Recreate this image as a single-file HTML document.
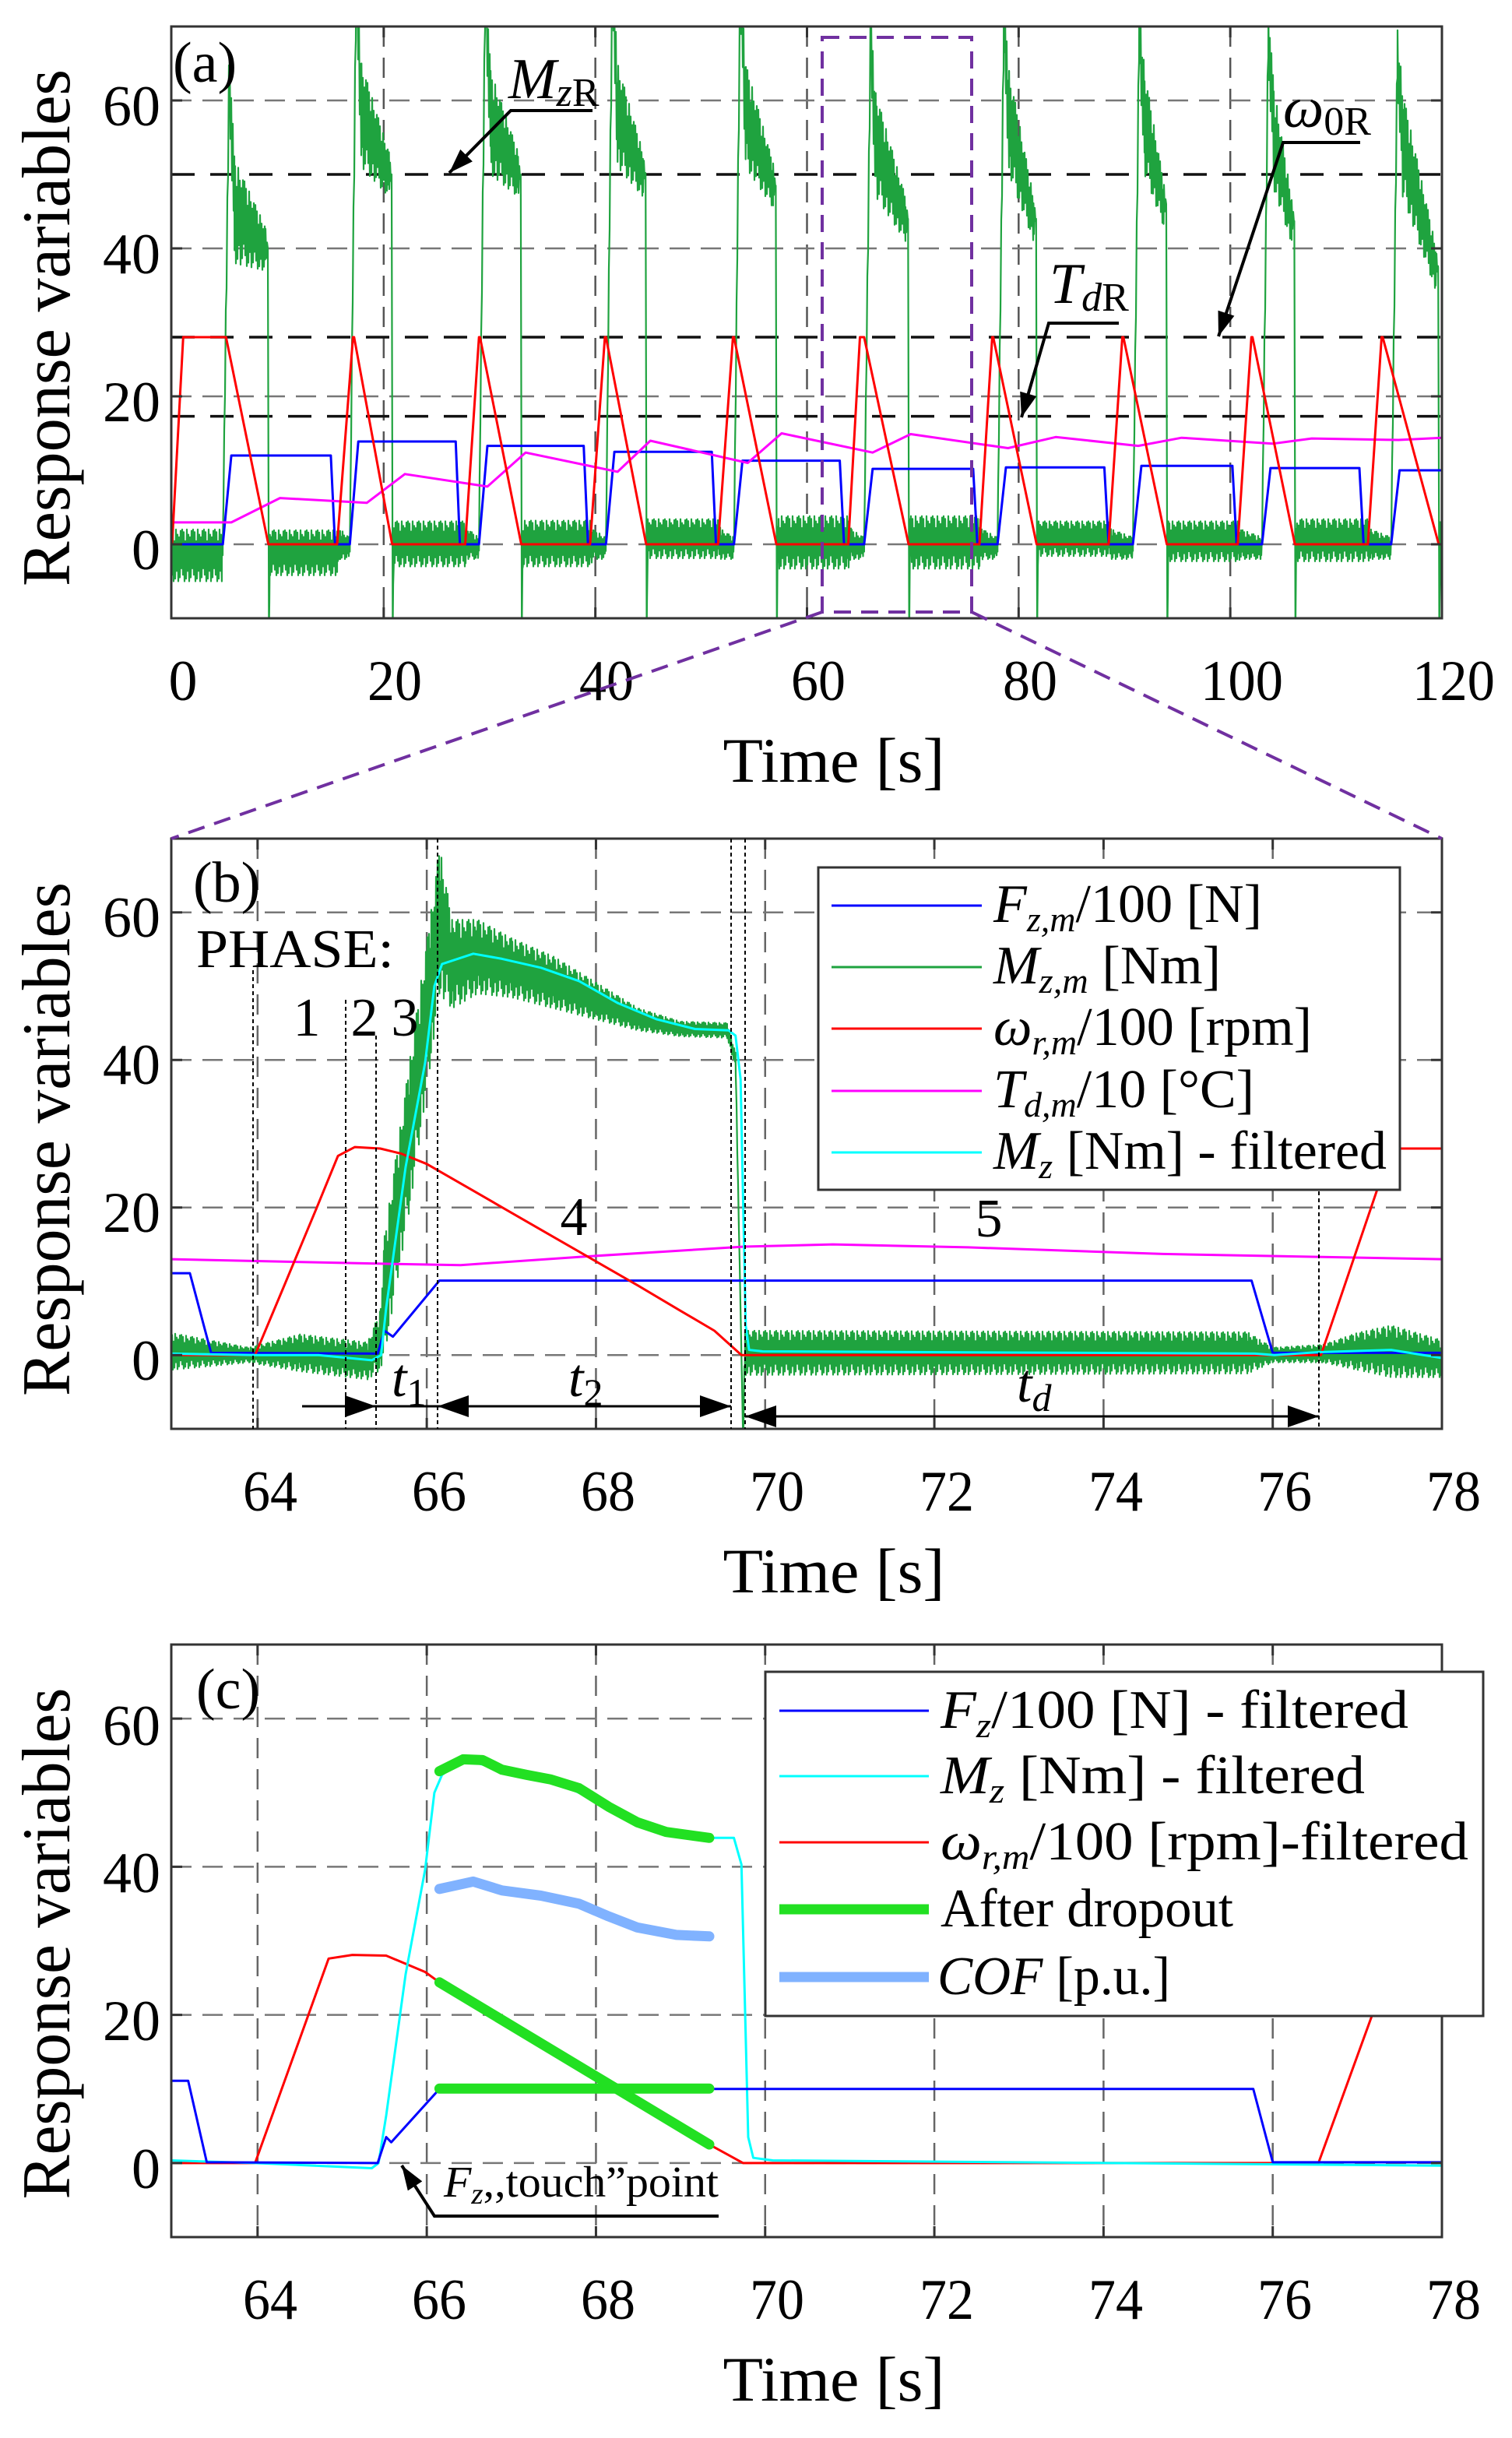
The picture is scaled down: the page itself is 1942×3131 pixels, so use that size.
<!DOCTYPE html>
<html><head><meta charset="utf-8"><title>Braking test response variables</title>
<style>
html,body{margin:0;padding:0;background:#fff;}
svg{display:block;}
text{font-family:"Liberation Serif","DejaVu Serif",serif;fill:#000;}
.it{font-style:italic;}
</style></head>
<body>
<svg id="chart" xmlns="http://www.w3.org/2000/svg" width="1942" height="3131" viewBox="0 0 1942 3131">
<rect x="0" y="0" width="1942" height="3131" fill="#fff"/>
<defs>
<clipPath id="clipA"><rect x="220" y="34" width="1632" height="760"/></clipPath>
<clipPath id="clipB"><rect x="220" y="1077" width="1632" height="758"/></clipPath>
<clipPath id="clipC"><rect x="220" y="2112" width="1632" height="761"/></clipPath>
<marker id="ah" viewBox="0 0 10 7" refX="10" refY="3.5" markerWidth="42" markerHeight="28" markerUnits="userSpaceOnUse" orient="auto"><path d="M0,0 L10,3.5 L0,7 z" fill="#000"/></marker>
<marker id="ahs" viewBox="0 0 10 7" refX="10" refY="3.5" markerWidth="36" markerHeight="22" markerUnits="userSpaceOnUse" orient="auto"><path d="M0,0 L10,3.5 L0,7 z" fill="#000"/></marker>
</defs>
<g id="gridA"></g>
<g id="gridB"></g>
<g id="gridC"></g>
<g id="dataA" clip-path="url(#clipA)"></g>
<g id="dataB" clip-path="url(#clipB)"></g>
<g id="dataC" clip-path="url(#clipC)"></g>
<g id="boxes"></g>

<!-- Panel A static text -->
<g font-size="74" text-anchor="end">
<text x="206" y="731">0</text><text x="206" y="541">20</text><text x="206" y="351">40</text><text x="206" y="161">60</text>
</g>
<g font-size="74" text-anchor="middle">
<text x="235" y="899">0</text><text x="507" y="899" textLength="70" lengthAdjust="spacingAndGlyphs">20</text><text x="779" y="899" textLength="70" lengthAdjust="spacingAndGlyphs">40</text><text x="1051" y="899" textLength="70" lengthAdjust="spacingAndGlyphs">60</text><text x="1323" y="899" textLength="70" lengthAdjust="spacingAndGlyphs">80</text><text x="1595" y="899" textLength="106" lengthAdjust="spacingAndGlyphs">100</text><text x="1867" y="899" textLength="106" lengthAdjust="spacingAndGlyphs">120</text>
</g>
<text x="1071" y="1004" font-size="82" text-anchor="middle" textLength="285" lengthAdjust="spacingAndGlyphs">Time [s]</text>
<text transform="translate(89,421) rotate(-90)" font-size="88" text-anchor="middle" textLength="664" lengthAdjust="spacingAndGlyphs">Response variables</text>
<text x="222" y="105" font-size="74">(a)</text>
<text x="653" y="126" font-size="74"><tspan class="it">M</tspan><tspan class="it" font-size="52" dy="10">z</tspan><tspan font-size="52">R</tspan></text>
<polyline points="761,142 656,142 577,222" fill="none" stroke="#000" stroke-width="4" marker-end="url(#ahs)"/>
<text x="1648" y="163" font-size="74"><tspan class="it">ω</tspan><tspan font-size="52" dy="10">0R</tspan></text>
<polyline points="1747,183 1648,183 1565,432" fill="none" stroke="#000" stroke-width="4" marker-end="url(#ahs)"/>
<text x="1348" y="389" font-size="74"><tspan class="it">T</tspan><tspan class="it" font-size="52" dy="10">d</tspan><tspan font-size="52">R</tspan></text>
<polyline points="1437,415 1347,415 1312,536" fill="none" stroke="#000" stroke-width="4" marker-end="url(#ahs)"/>
<g fill="none" stroke="#7030a0" stroke-width="4" stroke-dasharray="22,13">
<rect x="1056" y="48" width="192" height="738"/>
<line x1="1056" y1="786" x2="220" y2="1077"/>
<line x1="1248" y1="786" x2="1852" y2="1077"/>
</g>

<!-- Panel B static text -->
<g font-size="74" text-anchor="end">
<text x="206" y="1772">0</text><text x="206" y="1582">20</text><text x="206" y="1392">40</text><text x="206" y="1203">60</text>
</g>
<g font-size="74" text-anchor="middle">
<text x="347" y="1940" textLength="70" lengthAdjust="spacingAndGlyphs">64</text><text x="564" y="1940" textLength="70" lengthAdjust="spacingAndGlyphs">66</text><text x="781" y="1940" textLength="70" lengthAdjust="spacingAndGlyphs">68</text><text x="998" y="1940" textLength="70" lengthAdjust="spacingAndGlyphs">70</text><text x="1216" y="1940" textLength="70" lengthAdjust="spacingAndGlyphs">72</text><text x="1433" y="1940" textLength="70" lengthAdjust="spacingAndGlyphs">74</text><text x="1650" y="1940" textLength="70" lengthAdjust="spacingAndGlyphs">76</text><text x="1867" y="1940" textLength="70" lengthAdjust="spacingAndGlyphs">78</text>
</g>
<text x="1071" y="2045" font-size="82" text-anchor="middle" textLength="285" lengthAdjust="spacingAndGlyphs">Time [s]</text>
<text transform="translate(89,1463) rotate(-90)" font-size="88" text-anchor="middle" textLength="660" lengthAdjust="spacingAndGlyphs">Response variables</text>
<text x="248" y="1158" font-size="74">(b)</text>
<text x="252" y="1242" font-size="70" textLength="254" lengthAdjust="spacingAndGlyphs">PHASE:</text>
<g font-size="70" text-anchor="middle">
<text x="394" y="1330">1</text><text x="468" y="1330">2</text><text x="520" y="1330">3</text><text x="737" y="1586">4</text><text x="1270" y="1588">5</text>
</g>
<g stroke="#000" stroke-width="2" stroke-dasharray="5,4">
<line x1="325" y1="1246" x2="325" y2="1835"/>
<line x1="444" y1="1284" x2="444" y2="1835"/>
<line x1="483" y1="1330" x2="483" y2="1835"/>
<line x1="562" y1="1077" x2="562" y2="1835"/>
<line x1="939" y1="1077" x2="939" y2="1835"/>
<line x1="957" y1="1077" x2="957" y2="1835"/>
<line x1="1694" y1="1512" x2="1694" y2="1835"/>
</g>
<g stroke="#000" stroke-width="3" fill="none">
<line x1="388" y1="1806" x2="483" y2="1806" marker-end="url(#ah)"/>
<line x1="483" y1="1806" x2="562" y2="1806"/>
<line x1="700" y1="1806" x2="562" y2="1806" marker-end="url(#ah)"/>
<line x1="700" y1="1806" x2="939" y2="1806" marker-end="url(#ah)"/>
<line x1="1300" y1="1819" x2="957" y2="1819" marker-end="url(#ah)"/>
<line x1="1300" y1="1819" x2="1694" y2="1819" marker-end="url(#ah)"/>
</g>
<text x="503" y="1793" font-size="70"><tspan class="it">t</tspan><tspan font-size="50" dy="12">1</tspan></text>
<text x="730" y="1793" font-size="70"><tspan class="it">t</tspan><tspan font-size="50" dy="12">2</tspan></text>
<text x="1306" y="1800" font-size="70"><tspan class="it">t</tspan><tspan class="it" font-size="50" dy="12">d</tspan></text>

<g>
<rect x="1051" y="1114" width="747" height="414" fill="#fff" stroke="#333" stroke-width="3"/>
<line x1="1068" y1="1163" x2="1261" y2="1163" stroke="#0000ff" stroke-width="3"/>
<line x1="1068" y1="1242" x2="1261" y2="1242" stroke="#1fa33f" stroke-width="3"/>
<line x1="1068" y1="1321" x2="1261" y2="1321" stroke="#ff0000" stroke-width="3"/>
<line x1="1068" y1="1401" x2="1261" y2="1401" stroke="#ff00ff" stroke-width="3"/>
<line x1="1068" y1="1480" x2="1261" y2="1480" stroke="#00ffff" stroke-width="3"/>
<g font-size="70">
<text x="1276" y="1184" textLength="345" lengthAdjust="spacingAndGlyphs"><tspan class="it">F</tspan><tspan class="it" font-size="46" dy="12">z,m</tspan><tspan dy="-12">/100 [N]</tspan></text>
<text x="1276" y="1263" textLength="292" lengthAdjust="spacingAndGlyphs"><tspan class="it">M</tspan><tspan class="it" font-size="46" dy="12">z,m</tspan><tspan dy="-12">  [Nm]</tspan></text>
<text x="1276" y="1342" textLength="409" lengthAdjust="spacingAndGlyphs"><tspan class="it">ω</tspan><tspan class="it" font-size="46" dy="12">r,m</tspan><tspan dy="-12">/100 [rpm]</tspan></text>
<text x="1276" y="1422" textLength="335" lengthAdjust="spacingAndGlyphs"><tspan class="it">T</tspan><tspan class="it" font-size="46" dy="12">d,m</tspan><tspan dy="-12">/10 [°C]</tspan></text>
<text x="1276" y="1501" textLength="505" lengthAdjust="spacingAndGlyphs"><tspan class="it">M</tspan><tspan class="it" font-size="46" dy="12">z</tspan><tspan dy="-12"> [Nm] - filtered</tspan></text>
</g>
</g>

<!-- Panel C static text -->
<g font-size="74" text-anchor="end">
<text x="206" y="2810">0</text><text x="206" y="2620">20</text><text x="206" y="2430">40</text><text x="206" y="2241">60</text>
</g>
<g font-size="74" text-anchor="middle">
<text x="347" y="2978" textLength="70" lengthAdjust="spacingAndGlyphs">64</text><text x="564" y="2978" textLength="70" lengthAdjust="spacingAndGlyphs">66</text><text x="781" y="2978" textLength="70" lengthAdjust="spacingAndGlyphs">68</text><text x="998" y="2978" textLength="70" lengthAdjust="spacingAndGlyphs">70</text><text x="1216" y="2978" textLength="70" lengthAdjust="spacingAndGlyphs">72</text><text x="1433" y="2978" textLength="70" lengthAdjust="spacingAndGlyphs">74</text><text x="1650" y="2978" textLength="70" lengthAdjust="spacingAndGlyphs">76</text><text x="1867" y="2978" textLength="70" lengthAdjust="spacingAndGlyphs">78</text>
</g>
<text x="1071" y="3083" font-size="82" text-anchor="middle" textLength="285" lengthAdjust="spacingAndGlyphs">Time [s]</text>
<text transform="translate(89,2496) rotate(-90)" font-size="88" text-anchor="middle" textLength="657" lengthAdjust="spacingAndGlyphs">Response variables</text>
<text x="252" y="2194" font-size="74">(c)</text>
<text x="570" y="2821" font-size="56" textLength="353" lengthAdjust="spacingAndGlyphs"><tspan class="it">F</tspan><tspan class="it" font-size="38" dy="9">z</tspan><tspan dy="-9">,,touch”point</tspan></text>
<polyline points="923,2846 558,2846 516,2781" fill="none" stroke="#000" stroke-width="4" marker-end="url(#ahs)"/>

<g>
<rect x="983" y="2147" width="922" height="442" fill="#fff" stroke="#333" stroke-width="3"/>
<line x1="1001" y1="2197" x2="1193" y2="2197" stroke="#0000ff" stroke-width="3"/>
<line x1="1001" y1="2281" x2="1193" y2="2281" stroke="#00ffff" stroke-width="3"/>
<line x1="1001" y1="2366" x2="1193" y2="2366" stroke="#ff0000" stroke-width="3"/>
<line x1="1001" y1="2452" x2="1193" y2="2452" stroke="#22e022" stroke-width="13"/>
<line x1="1001" y1="2539" x2="1193" y2="2539" stroke="#80b2ff" stroke-width="13"/>
<g font-size="70">
<text x="1208" y="2219" textLength="601" lengthAdjust="spacingAndGlyphs"><tspan class="it">F</tspan><tspan class="it" font-size="46" dy="12">z</tspan><tspan dy="-12">/100 [N] - filtered</tspan></text>
<text x="1208" y="2303" textLength="545" lengthAdjust="spacingAndGlyphs"><tspan class="it">M</tspan><tspan class="it" font-size="46" dy="12">z</tspan><tspan dy="-12">  [Nm] - filtered</tspan></text>
<text x="1208" y="2388" textLength="678" lengthAdjust="spacingAndGlyphs"><tspan class="it">ω</tspan><tspan class="it" font-size="46" dy="12">r,m</tspan><tspan dy="-12">/100 [rpm]-filtered</tspan></text>
<text x="1208" y="2474" textLength="376" lengthAdjust="spacingAndGlyphs">After dropout</text>
<text x="1204" y="2561" textLength="299" lengthAdjust="spacingAndGlyphs"><tspan class="it">COF</tspan> [p.u.]</text>
</g>
</g>
</svg>

<script>
// ===== Panel A data =====
const aXTicks = [0, 20, 40, 60, 80, 100, 120];
const yTicks = [0, 20, 40, 60];
const aRefLevels = [50, 28, 17.3];
// speed (red) cycles
const redStart = [0, 15.6, 27.7, 39.5, 51.6, 63.9, 76.3, 88.5, 100.7, 113.0];
const redPeakT = [1.05, 17.1, 29.0, 40.9, 53.0, 65.0, 77.5, 89.8, 102.0, 114.3];
const redHoldEnd = [5.1, 17.2, 29.1, 41.0, 53.1, 65.4, 77.6, 89.9, 102.1, 114.4];
const redZeroT = [9.1, 20.8, 33.0, 44.8, 57.1, 69.6, 81.7, 94.0, 106.1, 119.7];
const redPeak = [28, 28, 28, 28, 28, 28, 28, 28, 28, 28];
// force (blue) cycles
const fzOn = [4.8, 16.8, 29.0, 41.0, 53.1, 65.4, 78.0, 90.8, 103.0, 115.2];
const fzLevel = [12.0, 13.9, 13.3, 12.5, 11.3, 10.2, 10.4, 10.6, 10.3, 10.0];
const fzOff = [15.0, 26.8, 38.9, 51.0, 63.1, 75.7, 88.1, 100.2, 112.2, 125];
// torque (green) cycles
const mzPeak = [64, 76, 76, 76, 76, 68, 70, 69.6, 69, 66];
const mzMid = [45, 58, 57, 58, 58, 54, 57, 57, 55, 54];
const mzFinal = [40, 50, 50, 50, 48.5, 44, 44, 46, 43.7, 37.4];
const mzBandLo = [-4.2, -3.0, -3.0, -1.9, -3.3, -3.3, -1.6, -2.3, -2.3, -2];
const mzBandHi = [1.9, 3.1, 3.2, 3.4, 3.8, 3.8, 3.1, 3.1, 3.4, 3];
// temperature (magenta)
const tdT = [0, 5.6, 10.2, 18.4, 22, 29.8, 33.4, 42.1, 45.2, 54.4, 57.6, 66.2, 69.8, 79, 83.5, 91.3, 95.4, 104, 107.7, 115.9, 120];
const tdV = [2.96, 2.96, 6.25, 5.6, 9.5, 7.8, 12.4, 9.8, 14.0, 11.0, 15.0, 12.4, 14.9, 13.0, 14.5, 13.3, 14.4, 13.6, 14.3, 14.1, 14.4];

// ===== Panel B data =====
const bcXTicks = [64, 66, 68, 70, 72, 74, 76];
const bRedT = [62.98, 63.97, 64.3, 64.7, 64.95, 65.15, 65.45, 65.7, 66.0, 66.5, 67, 67.5, 68, 68.5, 69, 69.4, 69.72, 76.57, 77.4, 78];
const bRedV = [0, 0, 9, 20, 27, 28.2, 28, 27.3, 25.9, 22.6, 19.3, 16, 12.7, 9.4, 6, 3.3, 0, 0, 28, 28];
const bFzT = [62.98, 63.2, 63.45, 65.42, 65.5, 65.6, 66.15, 75.75, 76.0, 78];
const bFzV = [11.1, 11.1, 0.3, 0.2, 3.3, 2.5, 10.1, 10.1, 0.3, 0.3];
const bTdT = [62.98, 65.4, 66.4, 67.8, 69.75, 70.8, 72.4, 74.7, 78];
const bTdV = [13.0, 12.4, 12.2, 13.3, 14.7, 15.0, 14.6, 13.7, 13.0];
const bMzfT = [62.98, 63.97, 64.72, 65.35, 65.46, 65.52, 65.75, 65.98, 66.09, 66.18, 66.55, 66.89, 67.35, 67.8, 68.26, 68.72, 69.17, 69.57, 69.65, 69.71, 69.77, 69.81, 69.97, 75.79, 76.02, 76.54, 77.4, 78];
const bMzfV = [0.2, 0, 0, -0.7, 0, 6.4, 25.5, 39.6, 50, 53, 54.4, 53.7, 52.5, 50.7, 47.7, 45.5, 44.2, 44, 43.3, 37.4, 4, 0.7, 0.5, 0.2, 0, 0.4, 0.7, -0.4];
const bMzT = [62.98, 63.9, 64.5, 65.3, 65.45, 65.5, 65.8, 66.05, 66.15, 66.3, 66.6, 67.0, 67.5, 68.0, 68.5, 69.0, 69.55, 69.65, 69.72, 69.74, 69.76, 75.7, 76.0, 76.6, 77.0, 77.4, 78];
const bMzV = [0.5, 0, 0.3, -0.8, 2, 8, 30, 50, 59, 53, 54, 52.5, 50.5, 48, 45.5, 44.2, 44, 40, 0, -12, 0.3, 0.3, 0, 0.2, 0.5, 0.5, -0.5];
const bMzAmp = [2.5, 1, 2.5, 2.5, 4, 8, 10, 10, 10, 6, 5, 4, 3.5, 2.5, 1.5, 1, 1, 1, 0, 0, 3, 2.8, 1, 1.2, 2.5, 3.5, 2.5];

// ===== Panel C data =====
const cRedT = [62.98, 63.97, 64.84, 65.12, 65.52, 65.98, 66.15, 69.34, 69.74, 76.54, 77.43, 78];
const cRedV = [0, 0, 27.6, 28.1, 28, 25.8, 24.4, 2.5, 0, 0, 28, 28];
const cFzT = [62.98, 63.18, 63.4, 65.42, 65.52, 65.58, 66.15, 75.77, 76.0, 78];
const cFzV = [11.1, 11.1, 0.1, 0, 3.5, 2.8, 10, 10, 0.1, 0.1];
const cMzT = [62.98, 63.97, 65.35, 65.43, 65.52, 65.75, 65.98, 66.09, 66.18, 66.43, 66.89, 67.46, 68.15, 68.83, 69.34, 69.63, 69.72, 69.8, 69.86, 70.09, 78];
const cMzV = [0.35, 0, -0.7, 0, 6.4, 25.5, 39.6, 50, 52.4, 54.5, 53.1, 51.8, 48.1, 44.7, 43.9, 43.9, 40.3, 3.5, 0.7, 0.35, -0.35];
const dropMzT = [66.15, 66.43, 66.66, 66.89, 67.18, 67.46, 67.8, 68.15, 68.49, 68.83, 69.34];
const dropMzV = [52.9, 54.5, 54.4, 53.1, 52.4, 51.8, 50.6, 48.1, 46, 44.7, 43.9];
const dropRedT = [66.15, 69.34];
const dropRedV = [24.4, 2.5];
const dropFzT = [66.15, 69.34];
const dropFzV = [10.05, 10.05];
const cofT = [66.15, 66.55, 66.89, 67.35, 67.8, 68.15, 68.49, 68.95, 69.34];
const cofV = [37, 38, 36.8, 36.1, 35, 33.3, 31.8, 30.8, 30.6];

// ===== rendering =====
const NS = 'http://www.w3.org/2000/svg';
const PA = {L:221, R:1852, T:34, B:794, x0:0, x1:120, y0:-10, y1:70, bx:220};
const PB = {L:220, R:1852, T:1077, B:1835, x0:62.98, x1:78, y0:-10, y1:70, bx:220};
const PC = {L:220, R:1852, T:2112, B:2873, x0:62.98, x1:78, y0:-10, y1:70, bx:220};
function sx(P, t) { return P.L + (t - P.x0) / (P.x1 - P.x0) * (P.R - P.L); }
function sy(P, v) { return P.B - (v - P.y0) / (P.y1 - P.y0) * (P.B - P.T); }
function mk(tag, attrs, parent) {
  const e = document.createElementNS(NS, tag);
  for (const k in attrs) e.setAttribute(k, attrs[k]);
  parent.appendChild(e);
  return e;
}
function pathOf(P, ts, vs) {
  let d = '';
  for (let i = 0; i < ts.length; i++) d += (i ? 'L' : 'M') + sx(P, ts[i]).toFixed(1) + ',' + sy(P, vs[i]).toFixed(1);
  return d;
}
function interp(ts, vs, t) {
  if (t <= ts[0]) return vs[0];
  for (let i = 1; i < ts.length; i++) if (t <= ts[i]) { const f = (t - ts[i-1]) / (ts[i] - ts[i-1] || 1); return vs[i-1] + f * (vs[i] - vs[i-1]); }
  return vs[vs.length - 1];
}
const texture = [1, -0.75, 0.9, -1, 0.55, -0.9, 1, -0.6, 0.8, -1, 0.7, -0.85, 0.95, -0.5];
function noisyPath(P, kt, kc, ka, stepPx) {
  const dt = stepPx / ((P.R - P.L) / (P.x1 - P.x0));
  let ts = kt.slice();
  for (let t = kt[0]; t < kt[kt.length-1]; t += dt) ts.push(t);
  ts.sort((a, b) => a - b);
  let d = '';
  ts.forEach((t, i) => {
    const v = interp(kt, kc, t) + interp(kt, ka, t) * texture[i % texture.length];
    d += (i ? 'L' : 'M') + sx(P, t).toFixed(1) + ',' + sy(P, v).toFixed(1);
  });
  return d;
}
function gridFor(P, g, xt, dark) {
  xt.forEach(t => {
    if (t <= P.x0 || t >= P.x1) return;
    const el = mk('line', {x1: sx(P, t), x2: sx(P, t), y1: P.T, y2: P.B, stroke: dark ? '#555' : '#666', 'stroke-width': 2.5, 'stroke-dasharray': '26,14'}, g);
    
    
  });
  yTicks.forEach(v => {
    const el = mk('line', {x1: P.bx, x2: P.R, y1: sy(P, v), y2: sy(P, v), stroke: '#777', 'stroke-width': 2.5, 'stroke-dasharray': '26,14'}, g);
    
    
  });
}
function boxFor(P, xt, name) {
  const g = document.getElementById('boxes');
  const r = mk('rect', {x: P.bx, y: P.T, width: P.R - P.bx, height: P.B - P.T, fill: 'none', stroke: '#333', 'stroke-width': 3}, g);
  
  
  xt.forEach(t => {
    const x = sx(P, t);
    const a = mk('line', {x1: x, x2: x, y1: P.B, y2: P.B - 14, stroke: '#333', 'stroke-width': 3}, g);
    
    
    const b = mk('line', {x1: x, x2: x, y1: P.T, y2: P.T + 14, stroke: '#333', 'stroke-width': 3}, g);
    
    
  });
  yTicks.forEach(v => {
    const y = sy(P, v);
    const a = mk('line', {x1: P.bx, x2: P.bx + 14, y1: y, y2: y, stroke: '#333', 'stroke-width': 3}, g);
    
    
    const b = mk('line', {x1: P.R - 14, x2: P.R, y1: y, y2: y, stroke: '#333', 'stroke-width': 3}, g);
    
    
  });
}
function line(P, g, d, color, w, name) {
  const el = mk('path', {d: d, fill: 'none', stroke: color, 'stroke-width': w, 'stroke-linejoin': 'round', 'stroke-linecap': 'round'}, g);
  
  
  return el;
}

// Panel A
(function(){
  const g = document.getElementById('dataA');
  gridFor(PA, document.getElementById('gridA'), aXTicks, true);
  aRefLevels.forEach(v => {
    const el = mk('line', {x1: PA.bx, x2: PA.R, y1: sy(PA, v), y2: sy(PA, v), stroke: '#111', 'stroke-width': 3.5, 'stroke-dasharray': '30,20'}, g);
    
    
  });
  const kt = [0], kc = [-1.5], ka = [3.5];
  for (let i = 0; i < redStart.length; i++) {
    const tc = fzOn[i];
    if (i > 0) { kt.push(redStart[i] + 0.3, tc - 0.1); kc.push(0, -0.5); ka.push(2, 1.5); }
    else { kt.push(tc - 0.1); kc.push(-1.5); ka.push(3.5); }
    kt.push(tc, tc + 0.6, tc + 1.1, redZeroT[i] - 0.3, redZeroT[i] - 0.05, redZeroT[i] + 0.05);
    kc.push(0, mzPeak[i], mzMid[i], mzFinal[i], mzFinal[i], -12);
    ka.push(1, 4, 7, 3, 0, 0);
    const bc = (mzBandLo[i] + mzBandHi[i]) / 2, ba = (mzBandHi[i] - mzBandLo[i]) / 2;
    const tEnd = i + 1 < redStart.length ? redStart[i+1] : 120;
    if (redZeroT[i] + 0.15 < tEnd) { kt.push(redZeroT[i] + 0.15, tEnd); kc.push(bc, bc); ka.push(ba, ba); }
  }
  line(PA, g, noisyPath(PA, kt, kc, ka, 1.0), '#1fa33f', 2.2, 'mz-measured-line');
  const ft = [0], fv = [0];
  for (let i = 0; i < fzOn.length; i++) { ft.push(fzOn[i], fzOn[i] + 0.8, fzOff[i], fzOff[i] + 0.4); fv.push(0, fzLevel[i], fzLevel[i], 0); }
  line(PA, g, pathOf(PA, ft, fv), '#0000ff', 3, 'fz-line');
  line(PA, g, pathOf(PA, tdT, tdV), '#ff00ff', 3, 'td-line');
  const rt = [], rv = [];
  for (let i = 0; i < redStart.length; i++) { rt.push(redStart[i], redPeakT[i], redHoldEnd[i], redZeroT[i]); rv.push(0, redPeak[i], redPeak[i], 0); }
  rt.push(120); rv.push(0);
  line(PA, g, pathOf(PA, rt, rv), '#ff0000', 3, 'omega-line');
  boxFor(PA, aXTicks.slice(1, -1), 'panel-a-axes-box');
})();

// Panel B
(function(){
  const g = document.getElementById('dataB');
  gridFor(PB, document.getElementById('gridB'), bcXTicks, false);
  line(PB, g, noisyPath(PB, bMzT, bMzV, bMzAmp, 1.0), '#1fa33f', 2.2, 'mz-measured-line');
  line(PB, g, pathOf(PB, bTdT, bTdV), '#ff00ff', 3, 'td-line');
  line(PB, g, pathOf(PB, bFzT, bFzV), '#0000ff', 3, 'fz-line');
  line(PB, g, pathOf(PB, bRedT, bRedV), '#ff0000', 3, 'omega-line');
  line(PB, g, pathOf(PB, bMzfT, bMzfV), '#00ffff', 3, 'mz-filtered-line');
  boxFor(PB, bcXTicks, 'panel-b-axes-box');
})();

// Panel C
(function(){
  const g = document.getElementById('dataC');
  gridFor(PC, document.getElementById('gridC'), bcXTicks, false);
  line(PC, g, pathOf(PC, cRedT, cRedV), '#ff0000', 3, 'omega-filtered-line');
  line(PC, g, pathOf(PC, cMzT, cMzV), '#00ffff', 3, 'mz-filtered-line');
  line(PC, g, pathOf(PC, cFzT, cFzV), '#0000ff', 3, 'fz-filtered-line');
  line(PC, g, pathOf(PC, dropMzT, dropMzV), '#22e022', 13, 'after-dropout-mz');
  line(PC, g, pathOf(PC, dropRedT, dropRedV), '#22e022', 13, 'after-dropout-omega');
  line(PC, g, pathOf(PC, dropFzT, dropFzV), '#22e022', 13, 'after-dropout-fz');
  line(PC, g, pathOf(PC, cofT, cofV), '#80b2ff', 13, 'cof-line');
  boxFor(PC, bcXTicks, 'panel-c-axes-box');
})();
</script>
</body></html>
